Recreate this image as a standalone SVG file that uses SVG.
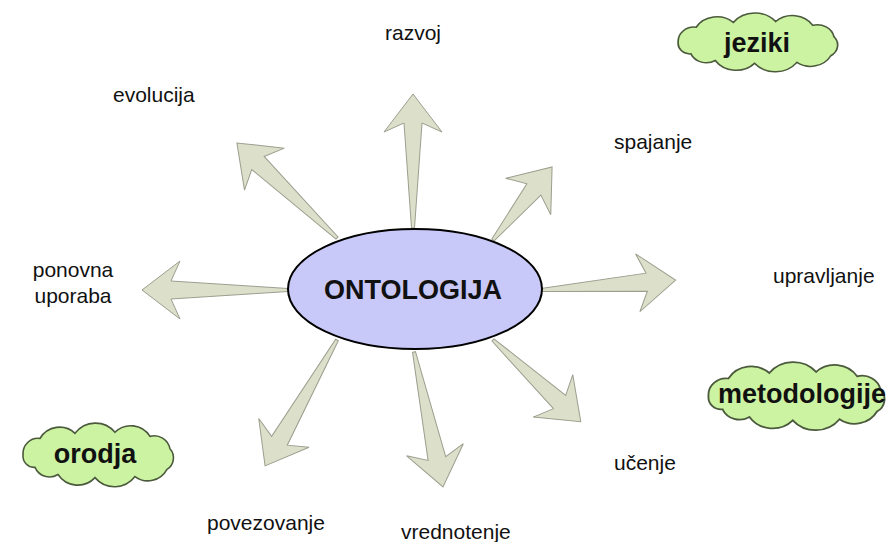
<svg xmlns="http://www.w3.org/2000/svg" width="894" height="542" viewBox="0 0 894 542">
  <style>
    .arrow { fill: #dcdfca; stroke: #9c9e8e; stroke-width: 1; stroke-linejoin: miter; }
    .cloud { fill: #ccf3a2; stroke: #4b5a3c; stroke-width: 1.6; }
    .lbl { font-family: "Liberation Sans", Arial, sans-serif; font-size: 21px; fill: #111; }
    .big { font-family: "Liberation Sans", Arial, sans-serif; font-size: 27px; font-weight: bold; fill: #111; }
  </style>
  <defs>
    <!-- cloud outline, roughly 157 x 62 before scaling -->
    <path id="cloudShape" d="M3,31 A15,15 0 0 1 20,15 A23,23 0 0 1 55,10 A26,26 0 0 1 95,9 A23,23 0 0 1 130,13 A16,16 0 0 1 150,25 A13,13 0 0 1 147,45 A22,22 0 0 1 115,52 A26,26 0 0 1 75,53 A24,24 0 0 1 38,50 A16,16 0 0 1 15,43 A11,11 0 0 1 3,31 Z"/>
  </defs>

  <rect width="894" height="542" fill="#ffffff"/>

  <!-- tapered arrows radiating from the central ellipse; each drawn along +x from its tail -->
  <g id="connectors">
    <polygon class="arrow" transform="translate(413,228) rotate(-90)" points="0,-1.5 105,-9 96,-29 134,0 96,29 105,9 0,1.5"/>
    <polygon class="arrow" transform="translate(337,238) rotate(-136.5)" points="0,-1.5 109,-9 100,-29 138,0 100,29 109,9 0,1.5"/>
    <polygon class="arrow" transform="translate(493,240) rotate(-51.05)" points="0,-1.5 65,-9 56,-29 94,0 56,29 65,9 0,1.5"/>
    <polygon class="arrow" transform="translate(541,290) rotate(-4.24)" points="0,-1.5 106,-9 97,-29 135,0 97,29 106,9 0,1.5"/>
    <polygon class="arrow" transform="translate(288,290) rotate(180)" points="0,-1.5 117,-9 108,-29 146,0 108,29 117,9 0,1.5"/>
    <polygon class="arrow" transform="translate(337,340) rotate(119.74)" points="0,-1.5 116,-9 107,-29 145,0 107,29 116,9 0,1.5"/>
    <polygon class="arrow" transform="translate(414,352) rotate(77.88)" points="0,-1.5 109,-9 100,-29 138,0 100,29 109,9 0,1.5"/>
    <polygon class="arrow" transform="translate(493,340) rotate(42.98)" points="0,-1.5 91,-9 82,-29 120,0 82,29 91,9 0,1.5"/>
  </g>

  <g id="ontologija">
    <ellipse cx="415" cy="289" rx="127" ry="60" fill="#c9c9f9" stroke="#000" stroke-width="2"/>
    <text class="big" x="413" y="299" text-anchor="middle">ONTOLOGIJA</text>
  </g>

  <g id="razvoj"><text class="lbl" x="385" y="40">razvoj</text></g>
  <g id="evolucija"><text class="lbl" x="113" y="102">evolucija</text></g>
  <g id="spajanje"><text class="lbl" x="614" y="149">spajanje</text></g>
  <g id="upravljanje"><text class="lbl" x="773" y="283">upravljanje</text></g>
  <g id="ponovna-uporaba">
    <text class="lbl" x="73" y="277" text-anchor="middle">ponovna</text>
    <text class="lbl" x="73" y="303" text-anchor="middle">uporaba</text>
  </g>
  <g id="ucenje"><text class="lbl" x="614" y="470">učenje</text></g>
  <g id="povezovanje"><text class="lbl" x="207" y="530">povezovanje</text></g>
  <g id="vrednotenje"><text class="lbl" x="401" y="539">vrednotenje</text></g>

  <g id="jeziki">
    <use href="#cloudShape" class="cloud" vector-effect="non-scaling-stroke" transform="translate(675,13) scale(1.06,0.95)"/>
    <text class="big" x="757" y="52" text-anchor="middle">jeziki</text>
  </g>
  <g id="metodologije">
    <use href="#cloudShape" class="cloud" vector-effect="non-scaling-stroke" transform="translate(705,362) scale(1.17,1.1)"/>
    <text class="big" x="718" y="403">metodologije</text>
  </g>
  <g id="orodja">
    <use href="#cloudShape" class="cloud" vector-effect="non-scaling-stroke" transform="translate(20,423) scale(1.0,1.03)"/>
    <text class="big" x="95" y="463" text-anchor="middle">orodja</text>
  </g>
</svg>
